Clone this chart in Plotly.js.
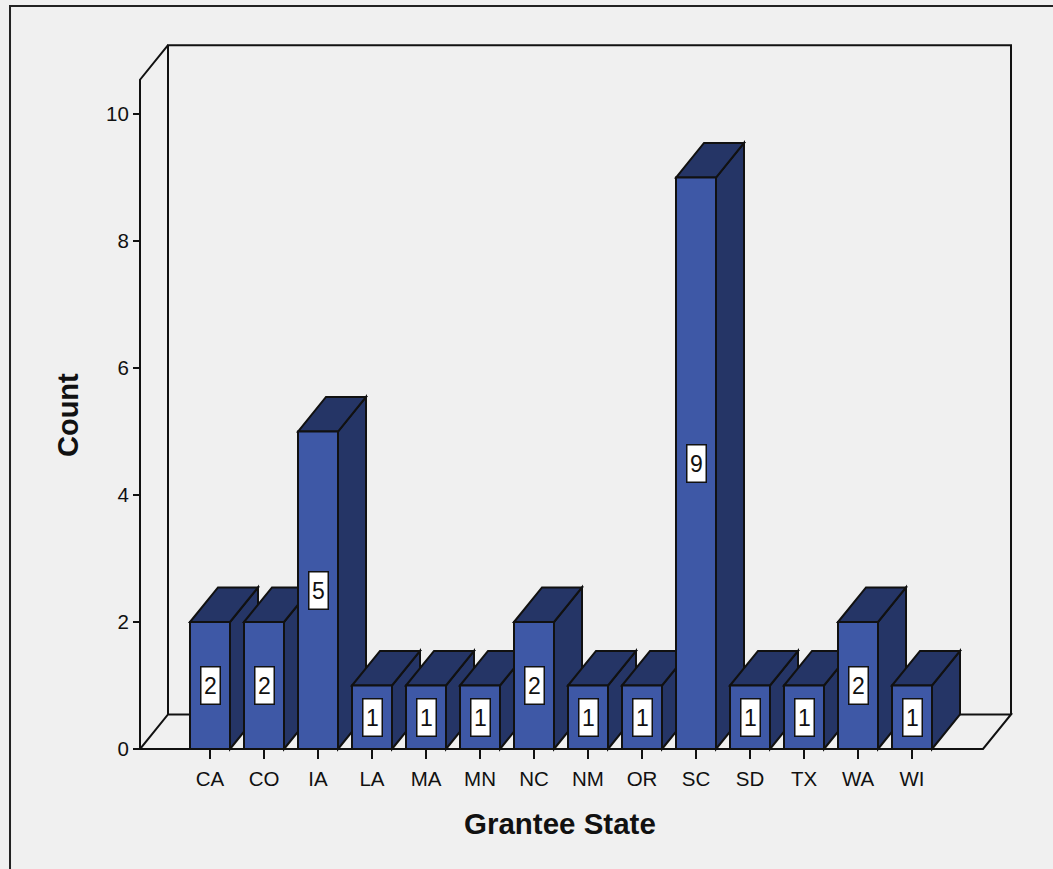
<!DOCTYPE html>
<html>
<head>
<meta charset="utf-8">
<script src="https://cdn.plot.ly/plotly-3.0.1.min.js"></script>
<style>html,body{margin:0;padding:0;background:#f0f0f0;}#chart{width:1053px;height:869px;}</style>
</head>
<body>
<div id="chart"></div>
<script>
// ---- data ----
var categories = ["CA","CO","IA","LA","MA","MN","NC","NM","OR","SC","SD","TX","WA","WI"];
var counts = [2,2,5,1,1,1,2,1,1,9,1,1,2,1];
var yTickVals = [0,2,4,6,8,10];
var yTickText = ["0","2","4","6","8","10"];

// ---- style / geometry constants ----
var FRONT = "#3e58a6", DARK = "#253566", EDGE = "#111111";
var BW = 0.7407;          // bar width (category units)
var DX = 0.5185, DY = 0.545; // depth offset
var X0 = -1.2963, XR = 14.315, YT = 10.54; // front-left axis x, front-right floor x, axis top

var idx = categories.map(function(c,i){return i;});
var shapes = [];
function path(pts){ return "M" + pts.map(function(p){return p[0]+","+p[1];}).join(" L") + " Z"; }
function openPath(pts){ return "M" + pts.map(function(p){return p[0]+","+p[1];}).join(" L"); }
var lineStyle = {color: EDGE, width: 2};

// outer frame
shapes.push({type:"rect", xref:"paper", yref:"paper", x0:-0.0976, x1:1.05, y0:-0.16, y1:1.0255,
  line:{color:"#222", width:2}, fillcolor:"rgba(0,0,0,0)", layer:"below"});
// floor
shapes.push({type:"path", xref:"x", yref:"y", layer:"below", line:lineStyle,
  path: path([[X0,0],[XR,0],[XR+DX,DY],[X0+DX,DY]])});
// back-left vertical, top back line, right wall vertical
shapes.push({type:"path", xref:"x", yref:"y", layer:"below", line:lineStyle,
  path: openPath([[X0+DX,DY],[X0+DX,YT+DY],[XR+DX,YT+DY],[XR+DX,DY]])});
// front axis + top diagonal
shapes.push({type:"path", xref:"x", yref:"y", layer:"below", line:lineStyle,
  path: openPath([[X0,0],[X0,YT],[X0+DX,YT+DY]])});

// bar side and top faces
counts.forEach(function(v,i){
  var l = i - BW/2, r = i + BW/2;
  shapes.push({type:"path", xref:"x", yref:"y", layer:"below", fillcolor:DARK, line:lineStyle,
    path: path([[r,0],[r+DX,DY],[r+DX,v+DY],[r,v]])});
  shapes.push({type:"path", xref:"x", yref:"y", layer:"below", fillcolor:DARK, line:lineStyle,
    path: path([[l,v],[l+DX,v+DY],[r+DX,v+DY],[r,v]])});
});

var annotations = counts.map(function(v,i){
  return {x:i, y:v/2, xref:"x", yref:"y", text:String(v), showarrow:false,
    font:{family:"Arial, Liberation Sans, sans-serif", size:23, color:"#111"},
    bgcolor:"#ffffff", bordercolor:"#111", borderwidth:1.5, borderpad:1, width:16, height:34};
});
annotations.push({xref:"paper", yref:"paper", x:0.4989, y:-0.0726, xanchor:"center", yanchor:"middle",
  text:"Grantee State", showarrow:false,
  font:{family:"Arial, Liberation Sans, sans-serif", size:29.5, color:"#111", weight:"bold"}});
annotations.push({xref:"paper", yref:"paper", x:-0.0347, y:0.4758, xanchor:"center", yanchor:"middle",
  text:"Count", textangle:-90, showarrow:false,
  font:{family:"Arial, Liberation Sans, sans-serif", size:29, color:"#111", weight:"bold"}});

var trace = {
  type:"bar", x: idx, y: counts, width: BW,
  marker:{color: FRONT, line:{color: EDGE, width: 2}},
  hoverinfo:"x+y"
};

var layout = {
  width:1053, height:869,
  margin:{l:100, r:31, t:25, b:100},
  paper_bgcolor:"#f0f0f0", plot_bgcolor:"#f0f0f0",
  showlegend:false,
  font:{family:"Arial, Liberation Sans, sans-serif", color:"#111"},
  xaxis:{type:"linear", range:[-2.037, 15.037], anchor:"free", position:0.02688,
    tickmode:"array", tickvals: idx, ticktext: categories,
    ticks:"outside", ticklen:9, tickwidth:2, tickcolor:EDGE, ticklabelstandoff:2,
    showgrid:false, zeroline:false, showline:false,
    tickfont:{size:20.5, color:"#111"}},
  yaxis:{range:[-0.315, 11.402], anchor:"free", position:0.04338,
    tickmode:"array", tickvals: yTickVals, ticktext: yTickText,
    ticks:"outside", ticklen:7, tickwidth:2, tickcolor:EDGE,
    showgrid:false, zeroline:false, showline:false,
    tickfont:{size:20.5, color:"#111"}},
  shapes: shapes,
  annotations: annotations
};

Plotly.newPlot("chart", [trace], layout, {displayModeBar:false, staticPlot:true});
</script>
</body>
</html>
